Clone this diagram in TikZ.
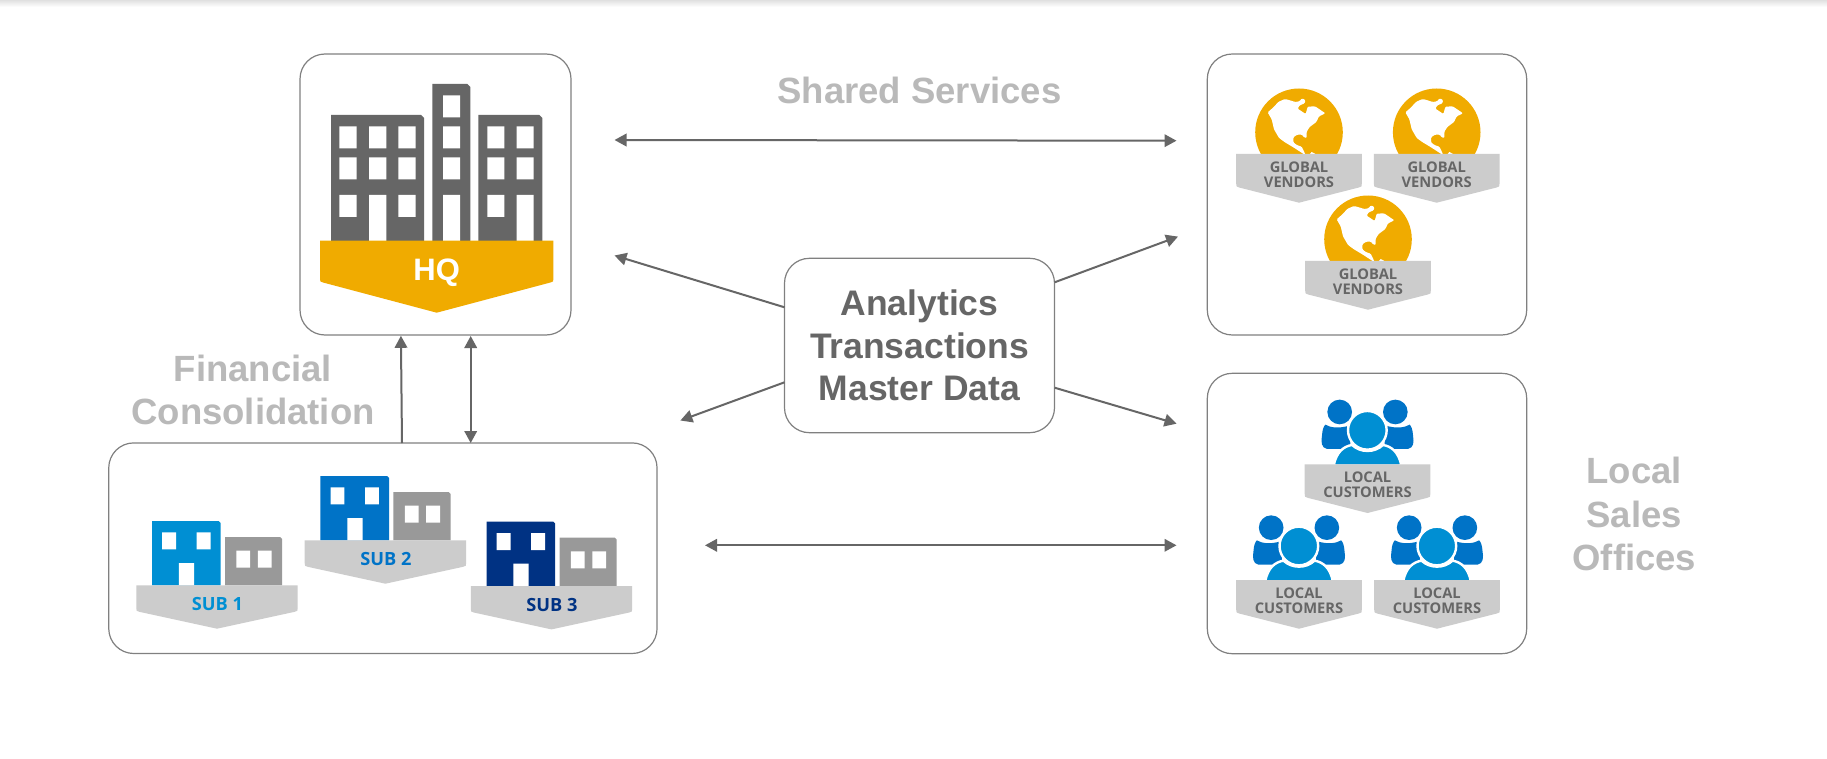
\documentclass[tikz,border=0pt]{standalone}
\usepackage{fontspec}
\setmainfont{Liberation Sans}
\newfontfamily\iconfont{Open Sans}
\usetikzlibrary{arrows.meta}
\definecolor{amber}{HTML}{F0AB00}
\definecolor{slate}{HTML}{666666}
\definecolor{ribbongray}{HTML}{CCCCCC}
\definecolor{midgray}{HTML}{999999}
\definecolor{caption}{HTML}{B9B9B9}
\definecolor{border}{HTML}{808080}
\definecolor{skyblue}{HTML}{008FD3}
\definecolor{midblue}{HTML}{0073C7}
\definecolor{navyblue}{HTML}{003283}
\tikzset{
  panel/.style={draw=border,line width=1.2pt,fill=white,rounded corners=25pt,inner sep=0pt,outer sep=0pt},
  link/.style={draw=slate,line width=2pt,-{Triangle[length=12pt,width=12.5pt]}},
  duplex/.style={draw=slate,line width=2pt,{Triangle[length=12pt,width=12.5pt]}-{Triangle[length=12pt,width=12.5pt]}},
  captiontext/.style={text=caption,font=\bfseries\fontsize{36.5}{43.5}\selectfont,align=center,inner sep=0pt},
  tagtext/.style={text=slate,font=\iconfont\bfseries\fontsize{14.7}{15.4}\selectfont,align=center,inner sep=0pt},
  subtext/.style={font=\iconfont\bfseries\fontsize{18.2}{18.2}\selectfont,inner sep=0pt},
}
% cx, top, half width, side drop, tip drop, colour
\newcommand\ribbon[6]{%
  \fill[#6] ({#1-#3},#2) -- ({#1+#3},#2) -- ({#1+#3},{#2+#4-3})
    .. controls ({#1+#3},{#2+#4}) .. ({#1+#3-3},{#2+#4+0.8}) -- (#1,{#2+#5})
    -- ({#1-#3+3},{#2+#4+0.8}) .. controls ({#1-#3},{#2+#4}) .. ({#1-#3},{#2+#4-3}) -- cycle;}
% name, cx, top of ribbon
\newcommand\globeicon[3]{%
  \begin{scope}[shift={(#2,#3)}]
    \fill[amber] (0,-21.7) circle (43.8);
    \begin{scope}
      \clip (0,-21.7) circle (43.8);
      \begin{scope}[scale=0.33333,shift={(-177,-222)}]
        \fill[white,rounded corners=1pt]
          (83,97) -- (98,84) -- (116,65) -- (135,57) -- (150,61) -- (165,66) -- (178,64) -- (186,55)
          -- (196,60) -- (194,70) -- (179,76) -- (173,86) -- (197,102) -- (203,80) -- (225,79) -- (240,89)
          -- (256,100) -- (237,109) -- (229,126) -- (209,141) -- (200,155) -- (200,174) -- (192,172)
          -- (186,164) -- (172,164) -- (160,172) -- (160,187) -- (170,195) -- (185,200) -- (191,212)
          -- (197,226) -- (180,215) -- (160,202) -- (135,187) -- (117,174) -- (102,148) -- (95,118) -- cycle;
        \fill[white] (208,224) -- (215,216) -- (230,224) -- cycle;
      \end{scope}
    \end{scope}
    \ribbon{0}{0}{62.8}{32.7}{48.7}{ribbongray}
    \node[tagtext] (#1) at (0,20.6) {GLOBAL\\VENDORS};
  \end{scope}}
\newcommand\peopleicon[3]{%
  \begin{scope}[shift={(#2,#3)}]
    \begin{scope}[scale=0.33333,shift={(-141.5,-222)}]
      \fill[midblue] (58,65) circle (37) (225,65) circle (37);
      \fill[midblue] (15,103) .. controls (30,112) and (55,116) .. (90,105) -- (90,176) -- (20,176)
        .. controls (2,172) and (2,155) .. (5,135) .. controls (6,118) and (10,108) .. (15,103) -- cycle;
      \fill[midblue] (268,103) .. controls (253,112) and (228,116) .. (193,105) -- (193,176) -- (263,176)
        .. controls (281,172) and (281,155) .. (278,135) .. controls (277,118) and (273,108) .. (268,103) -- cycle;
      \filldraw[skyblue,draw=white,line width=2.4pt] (40,226) .. controls (48,185) and (70,168) .. (95,164)
        .. controls (120,188) and (163,188) .. (188,164) .. controls (213,168) and (235,185) .. (243,226) -- cycle;
      \filldraw[skyblue,draw=white,line width=2.4pt] (141,120) circle (58);
    \end{scope}
    \ribbon{0}{0}{62.8}{32.7}{48.7}{ribbongray}
    \node[tagtext] (#1) at (0,20.5) {LOCAL\\CUSTOMERS};
  \end{scope}}
% name, cx, top, colour, label
\newcommand\subicon[5]{%
  \begin{scope}[shift={(#2,#3)}]
    \fill[#4] (-65,0) -- (-65,-64.3) -- (1.7,-64.3) -- (3.7,-62.3) -- (3.7,0) -- cycle;
    \fill[midgray] (8,0) -- (8,-48.3) -- (63.2,-48.3) -- (65.2,-46.3) -- (65.2,0) -- cycle;
    \fill[white] (-54.8,-53) rectangle (-41,-36) (-20.3,-53) rectangle (-6.5,-36) (-38.1,-22.3) rectangle (-22.8,0);
    \fill[white] (19.4,-34.6) rectangle (33.2,-17.6) (40.8,-34.6) rectangle (54.6,-17.6);
    \ribbon{0}{0}{80.7}{25.7}{43.4}{ribbongray}
    \node[subtext,text=#4] (#1) at (0.5,18.5) {#5};
  \end{scope}}
\begin{document}
\begin{tikzpicture}[x=1pt,y=-1pt]
\useasboundingbox (0,0) rectangle (1827,759);
\fill[white] (0,0) rectangle (1827,759);
\shade[top color=black!12,bottom color=white] (0,0) rectangle (1827,7);

% panels
\node[panel,minimum width=271pt,minimum height=281pt] (hq) at (435.5,194.5) {};
\node[panel,minimum width=319.4pt,minimum height=281pt] (vendors) at (1367,194.5) {};
\node[panel,minimum width=319.4pt,minimum height=280.4pt] (customers) at (1367,513.5) {};
\node[panel,minimum width=548.3pt,minimum height=210.6pt] (subs) at (382.9,548.2) {};
\node[panel,minimum width=270pt,minimum height=174.4pt,text=slate,font=\bfseries\fontsize{35.5}{42.6}\selectfont,align=center] (hub) at (919.5,345.5) {Analytics\\Transactions\\Master Data};

% HQ icon
\fill[slate] (331,241) -- (331,115) -- (421,115) -- (424,118) -- (424,241) -- cycle;
\fill[slate] (432.3,241) -- (432.3,84) -- (467.3,84) -- (470.3,87) -- (470.3,241) -- cycle;
\fill[slate] (478.3,241) -- (478.3,115) -- (539.3,115) -- (542.3,118) -- (542.3,241) -- cycle;
\fill[white]
  (339.3,126.3) rectangle (356.7,148.3) (369,126.3) rectangle (386.3,148.3) (398.3,126.3) rectangle (415.7,148.3)
  (339.3,157.3) rectangle (356.7,179.3) (369,157.3) rectangle (386.3,179.3) (398.3,157.3) rectangle (415.7,179.3)
  (339.3,195) rectangle (356.7,217) (369,195) rectangle (386.3,241) (398.3,195) rectangle (415.7,217)
  (443,95.3) rectangle (460,117.3) (443,126.3) rectangle (460,148.3) (443,157.3) rectangle (460,179.3) (443,195) rectangle (460,241)
  (487.3,126.3) rectangle (504.3,148.3) (516.7,126.3) rectangle (533.7,148.3)
  (487.3,157.3) rectangle (504.3,179.3) (516.7,157.3) rectangle (533.7,179.3)
  (487.3,195) rectangle (504.3,217) (516.7,195) rectangle (533.7,241);
\ribbon{436.7}{240.7}{116.7}{41}{72}{amber}
\node[text=white,font=\bfseries\fontsize{31}{31}\selectfont,inner sep=0pt] (hqlabel) at (436.7,272.5) {HQ};

% vendors, customers, subsidiaries
\globeicon{gva}{1299}{154}
\globeicon{gvb}{1436.7}{154}
\globeicon{gvc}{1368}{261}
\peopleicon{lca}{1367.5}{464.3}
\peopleicon{lcb}{1299}{580}
\peopleicon{lcc}{1437}{580}
\subicon{suba}{217}{585.3}{skyblue}{SUB 1}
\subicon{subb}{385.4}{540.3}{midblue}{SUB 2}
\subicon{subc}{551.5}{586}{navyblue}{SUB 3}

% captions
\node[captiontext] (shared) at (919.5,90.5) {Shared Services};
\node[captiontext] (fincons) at (253,390) {Financial\\Consolidation};
\node[captiontext] (sales) at (1634.3,514) {Local\\Sales\\Offices};

% connector ends
\coordinate (topl) at (614.5,140);
\coordinate (topr) at (1176.5,140.7);
\coordinate (botl) at (705,545.3);
\coordinate (botr) at (1176.5,545.3);
\coordinate (hubul) at (784.5,307.3);
\coordinate (hubll) at (784.5,382.3);
\coordinate (hubur) at (1054.6,282.3);
\coordinate (hublr) at (1054.6,387.7);
\coordinate (ul) at (614.5,255.5);
\coordinate (ll) at (680.4,420.5);
\coordinate (ur) at (1178,236.6);
\coordinate (lr) at (1176.5,423.7);
\coordinate (va) at (402,443);
\coordinate (vb) at (400.9,335.8);
\coordinate (vc) at (470.7,443);
\coordinate (vd) at (470.7,336);

% connectors
\draw[duplex] (topl) -- (topr);
\draw[duplex] (botl) -- (botr);
\draw[link] (hubul) -- (ul);
\draw[link] (hubll) -- (ll);
\draw[link] (hubur) -- (ur);
\draw[link] (hublr) -- (lr);
\draw[link] (va) -- (vb);
\draw[duplex] (vc) -- (vd);
\end{tikzpicture}
\end{document}
